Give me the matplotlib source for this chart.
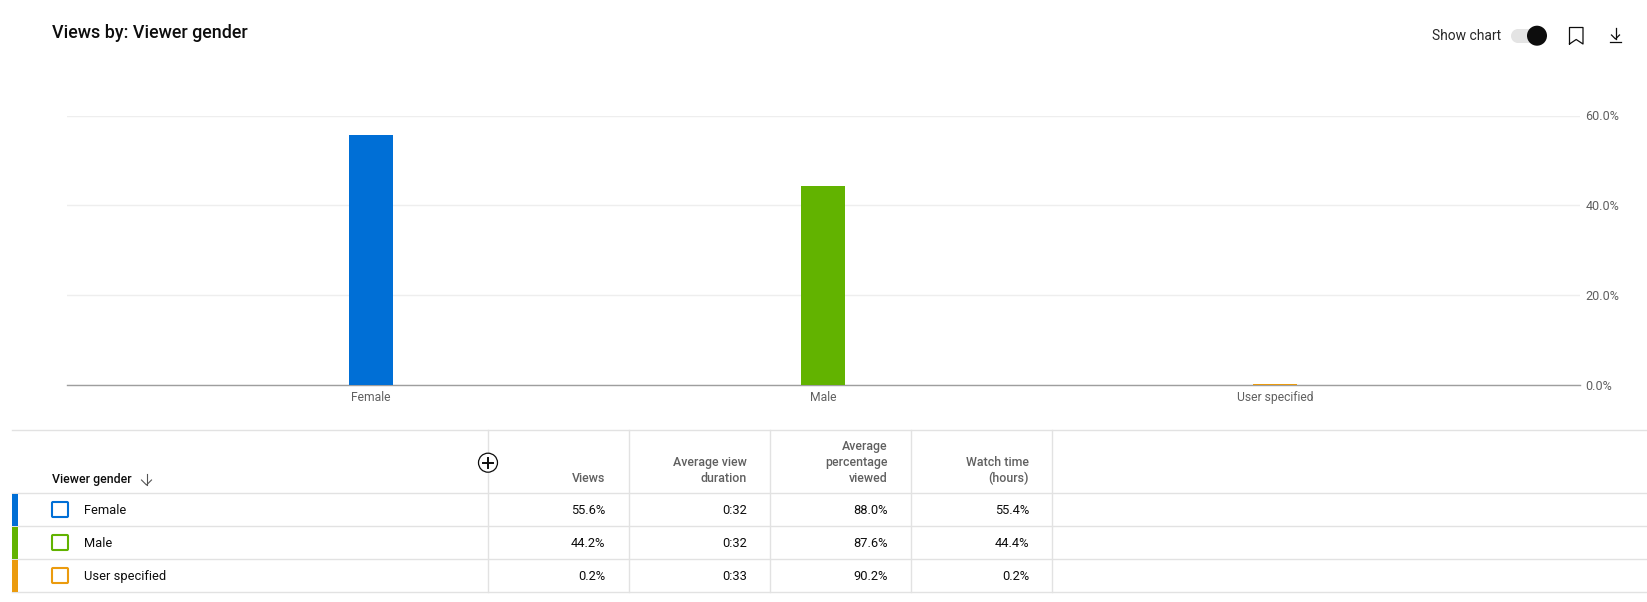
import matplotlib
matplotlib.use('Agg')
import matplotlib.pyplot as plt
from matplotlib.patches import Rectangle, Circle, FancyBboxPatch

plt.rcParams['font.family'] = ['Roboto', 'DejaVu Sans']

# Data
categories = ['Female', 'Male', 'User specified']
colors = ['#006fd6', '#62b300', '#eb9b0e']
views = [55.6, 44.2, 0.2]
view_labels = ['55.6%', '44.2%', '0.2%']
duration_labels = ['0:32', '0:32', '0:33']
percent_viewed_labels = ['88.0%', '87.6%', '90.2%']
watch_labels = ['55.4%', '44.4%', '0.2%']
headers = ['Views', 'Average view\nduration', 'Average\npercentage\nviewed', 'Watch time\n(hours)']
yticks = [0, 20, 40, 60]

W, H = 1647, 602
fig = plt.figure(figsize=(W / 100, H / 100), dpi=100)

# Overlay in pixel coords for the page furniture and the table
page = fig.add_axes([0, 0, 1, 1])
page.set_xlim(0, W)
page.set_ylim(H, 0)
page.axis('off')

# Bar chart
left, right, top, bottom = 67, 1580, 115.5, 385
ax = fig.add_axes([left / W, 1 - bottom / H, (right - left) / W, (bottom - top) / H])
ax.patch.set_alpha(0)
ax.bar(range(3), views, width=0.097, color=colors, zorder=3)
ax.set_xlim(-0.6726, 2.675)
ax.set_ylim(0, 60)
ax.set_xticks(range(3))
ax.set_xticklabels(categories)
ax.set_yticks(yticks)
ax.set_yticklabels([f'{v:.1f}%' for v in yticks])
ax.yaxis.tick_right()
ax.tick_params(axis='both', length=0, labelsize=8.7, labelcolor='#606060')
ax.tick_params(axis='x', pad=4)
ax.tick_params(axis='y', labelsize=9.1, pad=4)
ax.grid(axis='y', color='#eeeeee', linewidth=1, zorder=0)
for s in ['top', 'left', 'right']:
    ax.spines[s].set_visible(False)
ax.spines['bottom'].set_color('#9e9e9e')
ax.spines['bottom'].set_linewidth(1)
ax.spines['bottom'].set_zorder(2)

# Title and top right controls
page.text(52, 33, 'Views by: Viewer gender', fontsize=12.9, fontweight='medium', color='#0d0d0d', va='center')
page.text(1432, 35.5, 'Show chart', fontsize=10, color='#282828', va='center')
page.add_patch(Rectangle((1518, 29), 16, 14, fc='#e4e4e4', ec='none'))
page.add_patch(Circle((1518, 36), 7, fc='#e4e4e4', ec='none'))
page.add_patch(Circle((1537, 35.7), 10, fc='#0d0d0d', ec='none', zorder=3))
page.plot([1569.5, 1569.5, 1583, 1583, 1576.2, 1569.5], [44, 27.5, 27.5, 44, 39.5, 44], color='#0d0d0d', lw=0.9)
page.plot([1615.5, 1615.5], [28, 39], color='#0d0d0d', lw=0.9)
page.plot([1611.5, 1615.5, 1619.5], [35, 39, 35], color='#0d0d0d', lw=0.9)
page.plot([1610, 1621], [42, 42], color='#0d0d0d', lw=0.9)

# Table
line = '#e2e2e2'
table_left = 12
row_lines = [430, 493, 526, 559, 592]
col_lines = [488, 629, 770, 911, 1052]
col_right = [605.5, 747, 888, 1029]
for y in row_lines:
    page.plot([table_left, W], [y, y], color=line, lw=1, zorder=1)
for x in col_lines:
    page.plot([x, x], [430, 592], color=line, lw=1, zorder=1)

page.text(52, 480, 'Viewer gender', fontsize=8.9, fontweight='medium', color='#0d0d0d', va='center')
page.plot([146.5, 146.5], [473.5, 485], color='#555555', lw=0.8)
page.plot([141.5, 146.5, 151.5], [480, 485, 480], color='#555555', lw=0.8)

page.add_patch(Circle((488, 462.7), 9.5, fc='white', ec='#0d0d0d', lw=0.9, zorder=3))
page.plot([483, 493], [462.7, 462.7], color='#0d0d0d', lw=1.4, zorder=4)
page.plot([488, 488], [457.7, 467.7], color='#0d0d0d', lw=1.4, zorder=4)

for x, h in zip(col_right, headers):
    page.text(x, 485.5, h, fontsize=8.9, fontweight='medium', color='#606060', ha='right', va='bottom', linespacing=1.33)

columns = [view_labels, duration_labels, percent_viewed_labels, watch_labels]
for i, (cat, c) in enumerate(zip(categories, colors)):
    y0, y1 = row_lines[i + 1], row_lines[i + 2]
    mid = (y0 + y1) / 2
    page.add_patch(Rectangle((12, y0 + 0.5), 6, y1 - y0 - 1, fc=c, ec='none', zorder=2))
    page.add_patch(FancyBboxPatch((52, mid - 7.5), 16, 15, boxstyle='round,pad=0,rounding_size=1', fc='white', ec=c, lw=1.5, zorder=2))
    page.text(84, mid + 0.7, cat, fontsize=9.3, color='#0d0d0d', va='center')
    for x, col in zip(col_right, columns):
        page.text(x, mid + 0.7, col[i], fontsize=9.3, color='#0d0d0d', ha='right', va='center')

fig.savefig('out.png', dpi=100)
